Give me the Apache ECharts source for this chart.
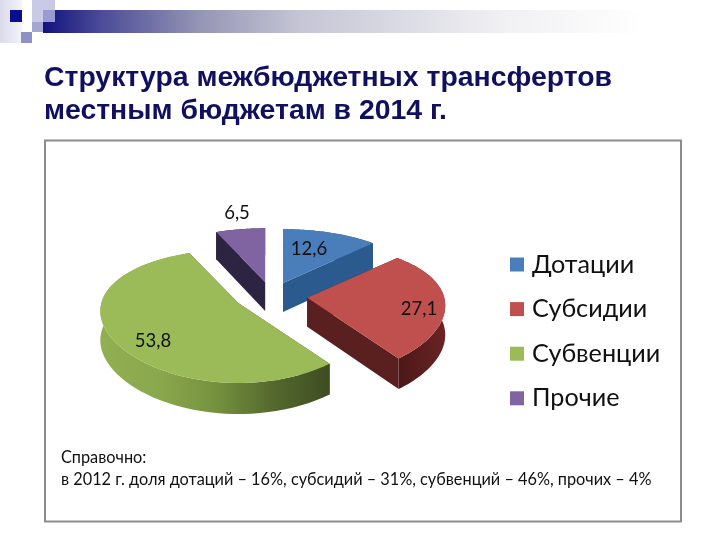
<!DOCTYPE html>
<html>
<head>
<meta charset="utf-8">
<style>html,body{margin:0;padding:0;background:#fff}#chart{width:720px;height:540px}</style>
<script src="https://cdn.jsdelivr.net/npm/echarts@6/dist/echarts.min.js"></script>
</head>
<body>
<div id="chart"></div>
<script>
var categories = ['Дотации', 'Субсидии', 'Субвенции', 'Прочие'];
var shares2014 = [12.6, 27.1, 53.8, 6.5];
var chartTitle = 'Структура межбюджетных трансфертов\nместным бюджетам в 2014 г.';
var noteText = 'Справочно:\nв 2012 г. доля дотаций – 16%, субсидий – 31%, субвенций – 46%, прочих – 4%';

// цвета: верх, стенка, обод
var topColors = ['#4a7ebb', '#c0504d', '#9bbb59', '#8064a2'];
var wallColors = ['#2b5a8f', '#5a1f1f', '#3f4f22', '#2d2444'];
var rimStops = [
    ['#2b5a8f', '#2b5a8f'],
    ['#4a1818', '#6a2423'],
    ['#91b052', '#8aa84c', '#76923f', '#55692e', '#3e4d22'],
    ['#2d2444', '#2d2444']
];

// перспектива псевдо-3D: порядок отрисовки сзади вперёд
var drawOrder = [3, 0, 2, 1];
var cx = 271, cy = 297.5, kx = 137, ky = 64.3, perspX = 0.12, perspY = 0.196, explode = 0.257;
var apexNudge = [[-1, 0], [1, -1], [-1.5, -3], [1, 0]];
var labelPos = [[309, 249], [419, 309], [153, 341], [237, 213]];

var total = shares2014.reduce(function(a, b) { return a + b; }, 0);

function sliceAngles(idx) {
    var before = 0;
    for (var i = 0; i < idx; i++) before += shares2014[i];
    return [before / total * Math.PI * 2, (before + shares2014[idx]) / total * Math.PI * 2];
}

function project(ox, oy, t, depth) {
    var u = Math.sin(t), v = -Math.cos(t);
    return [ox + kx * u / (1 - perspX * v), oy + ky * v / (1 - perspY * v) + (depth ? 29 + 2 * v : 0)];
}

function sliceApex(idx) {
    var a = sliceAngles(idx), mid = (a[0] + a[1]) / 2;
    var u = Math.sin(mid) * explode, v = -Math.cos(mid) * explode;
    var s = 1 / (1 - perspY * v);
    return [cx + kx * u * s + apexNudge[idx][0], cy + ky * v * s + apexNudge[idx][1]];
}

function renderSlice(idx) {
    return function(params, api) {
        var a = sliceAngles(idx), o = sliceApex(idx);
        var topPts = [], botPts = [], n = 60;
        for (var i = 0; i <= n; i++) {
            var t = a[0] + (a[1] - a[0]) * i / n;
            topPts.push(project(o[0], o[1], t, false));
            botPts.push(project(o[0], o[1], t, true));
        }
        var oBot = [o[0], o[1] + 29];
        var stops = rimStops[idx].map(function(c, i, arr) {
            return { offset: i / (arr.length - 1), color: c };
        });
        var kids = [
            { type: 'polygon', shape: { points: [o, topPts[0], botPts[0], oBot] }, style: { fill: wallColors[idx] } },
            { type: 'polygon', shape: { points: [o, topPts[n], botPts[n], oBot] }, style: { fill: wallColors[idx] } },
            { type: 'polygon', shape: { points: topPts.concat(botPts.slice().reverse()) },
              style: { fill: { type: 'linear', x: 0, y: 0, x2: 1, y2: 0, colorStops: stops } } },
            { type: 'polygon', shape: { points: [o].concat(topPts) }, style: { fill: topColors[idx] } },
            { type: 'text', style: {
                x: labelPos[idx][0], y: labelPos[idx][1],
                text: String(api.value(0)).replace('.', ','),
                align: 'center', verticalAlign: 'middle',
                font: '18.5px Lato, "Noto Sans", sans-serif', fill: '#111'
            } }
        ];
        return { type: 'group', children: kids };
    };
}

var series = drawOrder.map(function(idx) {
    return {
        name: categories[idx],
        type: 'custom',
        coordinateSystem: 'none',
        renderItem: renderSlice(idx),
        itemStyle: { color: topColors[idx] },
        silent: true,
        data: [[shares2014[idx]]]
    };
});

var slideGraphic = [
    { type: 'rect', shape: { x: 0, y: 0, width: 22, height: 43 }, style: { fill: { type: 'linear', x: 0, y: 0, x2: 1, y2: 0, colorStops: [{ offset: 0, color: '#d9d9ec' }, { offset: 1, color: '#f4f4fa' }] } } },
    { type: 'rect', shape: { x: 32, y: 0, width: 23, height: 22 }, style: { fill: '#c9cae6' } },
    { type: 'rect', shape: { x: 32, y: 22, width: 11, height: 10 }, style: { fill: '#a5a7d3' } },
    { type: 'rect', shape: { x: 21, y: 32, width: 11, height: 11 }, style: { fill: '#8f91c6' } },
    { type: 'rect', shape: { x: 43, y: 10, width: 667, height: 23 }, style: { fill: { type: 'linear', x: 0, y: 0, x2: 1, y2: 0, colorStops: [
        { offset: 0, color: '#12127e' }, { offset: 0.085, color: '#4a4a98' }, { offset: 0.235, color: '#9595b5' }, { offset: 0.385, color: '#c5c5d5' }, { offset: 0.685, color: '#f0f0f3' }, { offset: 0.9, color: '#ffffff' }
    ] } } },
    { type: 'rect', shape: { x: 43, y: 10, width: 12, height: 12 }, style: { fill: '#9a9bd4' } },
    { type: 'rect', shape: { x: 10, y: 10, width: 12, height: 12 }, style: { fill: '#0c0c8c' } },
    { type: 'rect', shape: { x: 45, y: 140.5, width: 636, height: 381 }, style: { fill: '#fff', stroke: '#8c8c8c', lineWidth: 2 } },
    { type: 'text', style: { x: 61, y: 447, text: noteText, font: '16.3px Lato, "Noto Sans", sans-serif', lineHeight: 22, fill: '#111' } }
];

var chart = echarts.init(document.getElementById('chart'), null, { renderer: 'canvas' });
chart.setOption({
    animation: false,
    title: {
        text: chartTitle, left: 44, top: 62, padding: 0,
        textStyle: { fontFamily: '"Liberation Sans"', fontWeight: 'bold', fontSize: 28.4, lineHeight: 33, color: '#10105e' }
    },
    legend: {
        orient: 'vertical', left: 510, top: 252, padding: 0,
        data: categories.map(function(c) { return { name: c, icon: 'rect' }; }),
        itemWidth: 14, itemHeight: 14, itemGap: 19.6, selectedMode: false,
        textStyle: { fontFamily: 'Lato, "Noto Sans", sans-serif', fontSize: 25.2, color: '#111', padding: [0, 0, 0, 3] }
    },
    graphic: slideGraphic,
    series: series
});
</script>
</body>
</html>
